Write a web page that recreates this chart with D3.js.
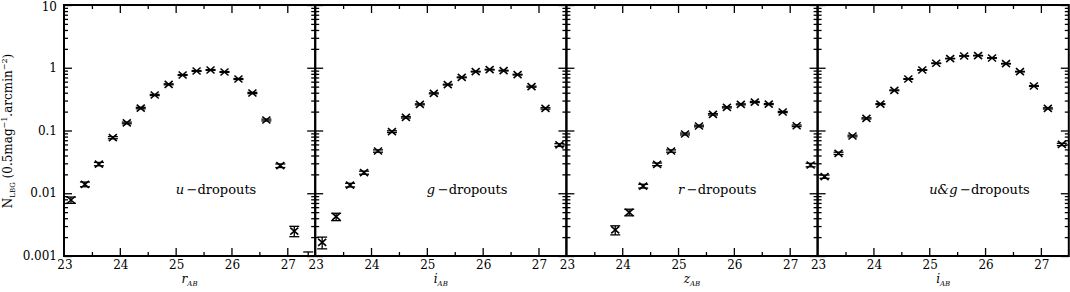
<!DOCTYPE html>
<html>
<head>
<meta charset="utf-8">
<script src="https://cdn.jsdelivr.net/npm/d3@7"></script>
<style>
  body { margin: 0; background: #fff; }
  svg { display: block; }
  text { font-family: "DejaVu Serif", serif; fill: #000; }
</style>
</head>
<body>
<svg id="chart" width="1070" height="292"></svg>
<script>
// magnitude bins (bin centres, 0.25 mag wide)
const binsFull = [23.125, 23.375, 23.625, 23.875, 24.125, 24.375, 24.625, 24.875, 25.125,
                  25.375, 25.625, 25.875, 26.125, 26.375, 26.625, 26.875, 27.125, 27.375];
const binsR = [23.875, 24.125, 24.375, 24.625, 24.875, 25.125, 25.375, 25.625, 25.875,
               26.125, 26.375, 26.625, 26.875, 27.125, 27.375];

// number counts
const uVals = [0.0078, 0.0139, 0.0292, 0.0769, 0.132, 0.228, 0.368, 0.545, 0.766,
               0.888, 0.921, 0.856, 0.662, 0.396, 0.147, 0.0275, 0.0025, 0.0006];
const uErrs = [0.0009, 0.0012, 0.0018, 0.003, 0.004, 0.006, 0.008, 0.01, 0.012,
               0.014, 0.014, 0.013, 0.012, 0.009, 0.005, 0.0018, 0.00047, 0.00056];

const gVals = [0.00165, 0.00423, 0.0135, 0.0213, 0.0471, 0.0959, 0.162, 0.261, 0.391,
               0.538, 0.703, 0.867, 0.932, 0.899, 0.776, 0.499, 0.225, 0.0588];
const gErrs = [0.00035, 0.00057, 0.0009, 0.0012, 0.002, 0.003, 0.004, 0.005, 0.007,
               0.008, 0.01, 0.011, 0.012, 0.012, 0.011, 0.009, 0.006, 0.003];

const rVals = [0.0026, 0.00497, 0.013, 0.0289, 0.0471, 0.088, 0.118, 0.181, 0.234,
               0.261, 0.284, 0.264, 0.197, 0.119, 0.0282];
const rErrs = [0.00043, 0.0006, 0.0009, 0.0014, 0.002, 0.003, 0.0035, 0.0045, 0.005,
               0.005, 0.0055, 0.005, 0.0045, 0.0035, 0.0018];

const ugVals = [0.0184, 0.0433, 0.0817, 0.156, 0.264, 0.437, 0.662, 0.921, 1.18,
                1.40, 1.54, 1.56, 1.43, 1.16, 0.867, 0.512, 0.225, 0.060];
const ugErrs = [0.0011, 0.0018, 0.0025, 0.0035, 0.0045, 0.006, 0.008, 0.01, 0.012,
                0.013, 0.014, 0.014, 0.014, 0.012, 0.01, 0.008, 0.005, 0.0025];

const xLetters = ["r", "i", "z", "i"];
const dropLabels = ["u", "g", "r", "u&g"];
const panelData = [
  { bins: binsFull, vals: uVals, errs: uErrs },
  { bins: binsFull, vals: gVals, errs: gErrs },
  { bins: binsR, vals: rVals, errs: rErrs },
  { bins: binsFull, vals: ugVals, errs: ugErrs }
];

const xTickLabels = [23, 24, 25, 26, 27];
const xMajor = [24, 25, 26, 27];
const xMinor = [23.5, 24.5, 25.5, 26.5];
const yMajor = [0.001, 0.01, 0.1, 1, 10];
const yLabels = ["0.001", "0.01", "0.1", "1", "10"];

const svg = d3.select("#chart");
const plotTop = 5, plotBottom = 256, left0 = 64, panelW = 251.2;

const y = d3.scaleLog().domain([0.001, 10]).range([plotBottom, plotTop]);
const yMinor = y.ticks().filter(v => !yMajor.some(m => Math.abs(m - v) / m < 1e-6));

panelData.forEach((p, i) => {
  const x0 = left0 + i * panelW;
  const x = d3.scaleLinear().domain([23, 27.5]).range([x0, x0 + panelW]);
  const g = svg.append("g");

  // y ticks, left side (inward)
  g.append("g").attr("transform", `translate(${x0},0)`)
    .call(d3.axisRight(y).tickValues(yMinor).tickSize(4).tickFormat(""));
  g.append("g").attr("transform", `translate(${x0},0)`)
    .call(d3.axisRight(y).tickValues(yMajor).tickSize(8).tickFormat(""));
  // y ticks, right side (inward)
  g.append("g").attr("transform", `translate(${x0 + panelW},0)`)
    .call(d3.axisLeft(y).tickValues(yMinor).tickSize(4).tickFormat(""));
  g.append("g").attr("transform", `translate(${x0 + panelW},0)`)
    .call(d3.axisLeft(y).tickValues(yMajor).tickSize(8).tickFormat(""));
  // x ticks bottom and top (inward)
  g.append("g").attr("transform", `translate(0,${plotBottom})`)
    .call(d3.axisTop(x).tickValues(xMinor).tickSize(4).tickFormat(""));
  g.append("g").attr("transform", `translate(0,${plotBottom})`)
    .call(d3.axisTop(x).tickValues(xMajor).tickSize(8).tickFormat(""));
  g.append("g").attr("transform", `translate(0,${plotTop})`)
    .call(d3.axisBottom(x).tickValues(xMinor).tickSize(4).tickFormat(""));
  g.append("g").attr("transform", `translate(0,${plotTop})`)
    .call(d3.axisBottom(x).tickValues(xMajor).tickSize(8).tickFormat(""));

  g.selectAll(".domain").remove();
  g.selectAll(".tick line").attr("stroke", "#000").attr("stroke-width", 1.3);

  // frame
  g.append("rect").attr("x", x0).attr("y", plotTop)
    .attr("width", panelW).attr("height", plotBottom - plotTop)
    .attr("fill", "none").attr("stroke", "#000").attr("stroke-width", 2);

  // x tick labels
  g.selectAll(".xl").data(xTickLabels).enter().append("text")
    .attr("x", d => x(d) + 1).attr("y", 269)
    .attr("text-anchor", "middle").attr("font-size", 12)
    .text(d => d);

  // x title
  const xt = g.append("text").attr("x", x0 + panelW / 2).attr("y", 283)
    .attr("text-anchor", "middle").attr("font-size", 12);
  xt.append("tspan").attr("font-style", "italic").text(xLetters[i]);
  xt.append("tspan").attr("font-style", "italic").attr("font-size", 7)
    .attr("dy", 3).text("AB");

  // dropout label
  const dl = g.append("text").attr("x", x(25)).attr("y", 194).attr("font-size", 13);
  dl.append("tspan").attr("font-style", "italic").text(dropLabels[i]);
  dl.append("tspan").text("\u2009\u2212dropouts");

  // error bars + markers
  const pts = p.bins.map((b, k) => ({ b, v: p.vals[k], e: p.errs[k] }));
  const clampY = v => y(Math.min(10, Math.max(0.001, v)));
  pts.forEach(d => {
    const cx = x(d.b);
    const yHi = clampY(d.v + d.e);
    const yLo = clampY(d.v - d.e);
    g.append("line").attr("x1", cx).attr("x2", cx).attr("y1", yHi).attr("y2", yLo)
      .attr("stroke", "#000").attr("stroke-width", 1.3);
    [d.v + d.e, d.v - d.e].forEach(ev => {
      if (ev >= 0.001 && ev <= 10) {
        g.append("line").attr("x1", cx - 5).attr("x2", cx + 5)
          .attr("y1", y(ev)).attr("y2", y(ev))
          .attr("stroke", "#000").attr("stroke-width", 1.3);
      }
    });
    if (d.v >= 0.001) {
      const cy = y(d.v);
      g.append("path")
        .attr("d", `M${cx - 4},${cy - 3.5}L${cx + 4},${cy + 3.5}M${cx - 4},${cy + 3.5}L${cx + 4},${cy - 3.5}`)
        .attr("stroke", "#000").attr("stroke-width", 1.6).attr("fill", "none");
    }
  });

  // y tick labels on first panel only
  if (i === 0) {
    g.selectAll(".yl").data(yMajor).enter().append("text")
      .attr("x", x0 - 7).attr("y", d => Math.max(y(d) + 4, 11))
      .attr("text-anchor", "end").attr("font-size", 12)
      .text((d, k) => yLabels[k]);
  }
});

// y axis title
const yt = svg.append("text")
  .attr("transform", "translate(12,131) rotate(-90)")
  .attr("text-anchor", "middle").attr("font-size", 12);
yt.append("tspan").text("N");
yt.append("tspan").attr("font-size", 7).attr("dy", 3).text("LBG");
yt.append("tspan").attr("dy", -3).text(" (0.5mag");
yt.append("tspan").attr("font-size", 8).attr("dy", -5).text("\u22121");
yt.append("tspan").attr("dy", 5).text(".arcmin");
yt.append("tspan").attr("font-size", 8).attr("dy", -5).text("\u22122");
yt.append("tspan").attr("dy", 5).text(")");
</script>
</body>
</html>
